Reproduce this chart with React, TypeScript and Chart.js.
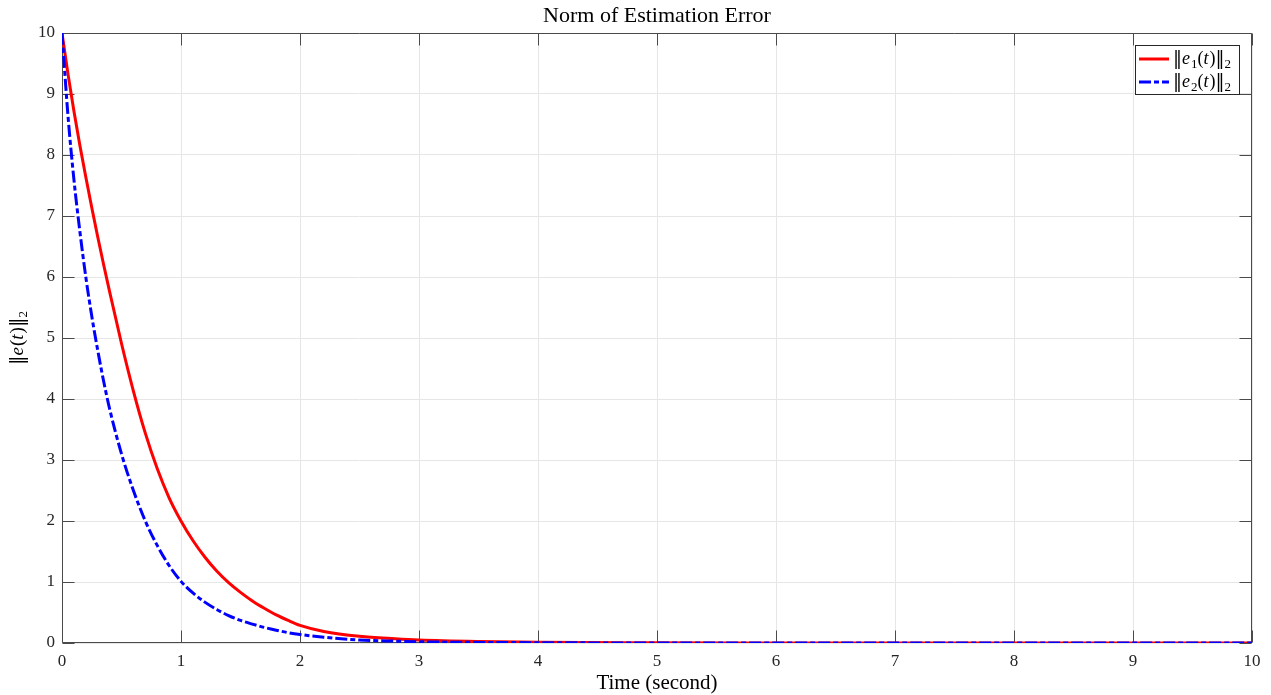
import { useEffect, useRef } from 'react';
import { Chart, registerables } from 'chart.js';

Chart.register(...registerables);

const timeValues = [0, 0.05, 0.1, 0.15, 0.2, 0.25, 0.3, 0.35, 0.4, 0.5, 0.6, 0.7, 0.8, 0.9, 1.0, 1.1, 1.2, 1.3, 1.4, 1.5, 1.6, 1.7, 1.8, 1.9, 2.0, 2.2, 2.5, 2.8, 3.0, 3.5, 4, 5, 6, 7, 8, 9, 10];
const e1Values = [10, 9.33, 8.72, 8.16, 7.64, 7.14, 6.66, 6.2, 5.76, 4.91, 4.13, 3.44, 2.86, 2.38, 2.0, 1.68, 1.41, 1.18, 0.99, 0.83, 0.69, 0.57, 0.46, 0.37, 0.29, 0.19, 0.11, 0.07, 0.05, 0.025, 0.012, 0.004, 0.001, 0, 0, 0, 0];
const e2Values = [10, 8.65, 7.6, 6.75, 6.0, 5.36, 4.8, 4.29, 3.84, 3.1, 2.5, 2.0, 1.6, 1.27, 1.01, 0.82, 0.67, 0.55, 0.45, 0.37, 0.31, 0.255, 0.21, 0.17, 0.14, 0.095, 0.05, 0.03, 0.02, 0.01, 0.005, 0, 0, 0, 0, 0, 0];
const xTickValues = [0, 1, 2, 3, 4, 5, 6, 7, 8, 9, 10];
const yTickValues = [0, 1, 2, 3, 4, 5, 6, 7, 8, 9, 10];

const TITLE = 'Norm of Estimation Error';
const X_LABEL = 'Time (second)';
const SERIF = '"Liberation Serif", "DejaVu Serif", serif';

type Part = [string, 'n' | 'r' | 'i' | 's'];
const yLabelParts: Part[] = [['‖', 'n'], ['e', 'i'], ['(', 'r'], ['t', 'i'], [')', 'r'], ['‖', 'n'], ['2', 's']];
const legendParts1: Part[] = [['‖', 'n'], ['e', 'i'], ['1', 's'], ['(', 'r'], ['t', 'i'], [')', 'r'], ['‖', 'n'], ['2', 's']];
const legendParts2: Part[] = [['‖', 'n'], ['e', 'i'], ['2', 's'], ['(', 'r'], ['t', 'i'], [')', 'r'], ['‖', 'n'], ['2', 's']];

const RED = '#ff0000';
const BLUE = '#0000ff';
const DASH = [12, 3, 5, 3];

function partFont(style: string, size: number) {
  if (style === 'i') return `italic ${size}px ${SERIF}`;
  if (style === 's') return `${Math.round(size * 0.7)}px ${SERIF}`;
  if (style === 'n') return `${size}px "DejaVu Serif", serif`;
  return `${size}px ${SERIF}`;
}

function mathWidth(ctx: CanvasRenderingContext2D, parts: Part[], size: number) {
  let w = 0;
  for (const [t, s] of parts) {
    ctx.font = partFont(s, size);
    w += ctx.measureText(t).width + (s === 'i' ? 1 : 0);
  }
  return w;
}

function drawMath(ctx: CanvasRenderingContext2D, parts: Part[], x: number, y: number, size: number) {
  let cx = x;
  ctx.textAlign = 'left';
  ctx.textBaseline = 'middle';
  for (const [t, s] of parts) {
    ctx.font = partFont(s, size);
    const dy = s === 's' ? size * 0.3 : 0;
    ctx.fillText(t, cx, y + dy);
    cx += ctx.measureText(t).width + (s === 'i' ? 1 : 0);
  }
}

const framePlugin = {
  id: 'matlabFrame',
  beforeDatasetsDraw(chart: any) {
    const { ctx, chartArea } = chart;
    const { left, right, top, bottom } = chartArea;
    const xs = chart.scales.x;
    const ys = chart.scales.y;
    ctx.save();
    ctx.strokeStyle = '#4a4a4a';
    ctx.lineWidth = 1;
    const L = Math.round(left) + 0.5;
    const R = Math.round(right) - 0.5;
    const T = Math.round(top) + 0.5;
    const B = Math.round(bottom) - 0.5;
    ctx.beginPath();
    ctx.rect(L, T, R - L, B - T);
    const tick = 12;
    for (const v of xTickValues) {
      const px = Math.round(xs.getPixelForValue(v)) + 0.5;
      ctx.moveTo(px, B);
      ctx.lineTo(px, B - tick);
      ctx.moveTo(px, T);
      ctx.lineTo(px, T + tick);
    }
    for (const v of yTickValues) {
      const py = Math.round(ys.getPixelForValue(v)) + 0.5;
      ctx.moveTo(L, py);
      ctx.lineTo(L + tick, py);
      ctx.moveTo(R, py);
      ctx.lineTo(R - tick, py);
    }
    ctx.stroke();
    ctx.restore();
  },
  afterDraw(chart: any) {
    const { ctx, chartArea } = chart;
    const { left, right, top, bottom } = chartArea;
    ctx.save();
    ctx.fillStyle = '#000';
    // title
    ctx.font = `22px ${SERIF}`;
    ctx.textAlign = 'center';
    ctx.textBaseline = 'middle';
    ctx.fillText(TITLE, (left + right) / 2, 16);
    // x label
    ctx.font = `21px ${SERIF}`;
    ctx.fillText(X_LABEL, (left + right) / 2, 683);
    // y label
    ctx.save();
    ctx.translate(18, (top + bottom) / 2);
    ctx.rotate(-Math.PI / 2);
    const yw = mathWidth(ctx, yLabelParts, 19);
    ctx.fillStyle = '#000';
    drawMath(ctx, yLabelParts, -yw / 2, 0, 19);
    ctx.restore();
    // legend
    const bx = right - 117;
    const by = top + 12;
    const bw = 104;
    const bh = 49;
    ctx.fillStyle = '#fff';
    ctx.fillRect(bx, by, bw, bh);
    ctx.strokeStyle = '#262626';
    ctx.lineWidth = 1;
    ctx.strokeRect(bx + 0.5, by + 0.5, bw, bh);
    const rows = [
      { color: RED, dash: [] as number[], parts: legendParts1, y: by + 14 },
      { color: BLUE, dash: DASH, parts: legendParts2, y: by + 37 },
    ];
    for (const r of rows) {
      ctx.strokeStyle = r.color;
      ctx.lineWidth = 3;
      ctx.setLineDash(r.dash);
      ctx.beginPath();
      ctx.moveTo(bx + 4, r.y);
      ctx.lineTo(bx + 34, r.y);
      ctx.stroke();
      ctx.setLineDash([]);
      ctx.fillStyle = '#000';
      drawMath(ctx, r.parts, bx + 38, r.y, 18);
    }
    ctx.restore();
  },
};

export default function App() {
  const canvasRef = useRef<HTMLCanvasElement | null>(null);

  useEffect(() => {
    if (!canvasRef.current) return;
    const chart = new Chart(canvasRef.current, {
      type: 'line',
      data: {
        datasets: [
          {
            label: '‖e1(t)‖2',
            data: timeValues.map((t, i) => ({ x: t, y: e1Values[i] })),
            borderColor: RED,
            backgroundColor: RED,
            borderWidth: 3,
            pointRadius: 0,
            cubicInterpolationMode: 'monotone',
            order: 2,
          },
          {
            label: '‖e2(t)‖2',
            data: timeValues.map((t, i) => ({ x: t, y: e2Values[i] })),
            borderColor: BLUE,
            backgroundColor: BLUE,
            borderWidth: 3,
            borderDash: DASH,
            pointRadius: 0,
            cubicInterpolationMode: 'monotone',
            order: 1,
          },
        ],
      },
      options: {
        animation: false,
        responsive: false,
        maintainAspectRatio: false,
        layout: { padding: { top: 33, right: 19, left: 0, bottom: 0 } },
        plugins: {
          legend: { display: false },
          title: { display: false },
          tooltip: { enabled: false },
        },
        scales: {
          x: {
            type: 'linear',
            min: 0,
            max: 10,
            afterFit: (s: any) => { s.height = 52; },
            afterBuildTicks: (s: any) => { s.ticks = xTickValues.map((v) => ({ value: v })); },
            ticks: {
              color: '#262626',
              font: { family: SERIF, size: 17 },
              padding: 8,
              maxRotation: 0,
            },
            grid: { color: '#e6e6e6', drawTicks: false, lineWidth: 1 },
            border: { display: false },
          },
          y: {
            type: 'linear',
            min: 0,
            max: 10,
            afterFit: (s: any) => { s.width = 62; },
            afterBuildTicks: (s: any) => { s.ticks = yTickValues.map((v) => ({ value: v })); },
            ticks: {
              color: '#262626',
              font: { family: SERIF, size: 17 },
              padding: 7,
            },
            grid: { color: '#e6e6e6', drawTicks: false, lineWidth: 1 },
            border: { display: false },
          },
        },
      },
      plugins: [framePlugin],
    } as any);
    return () => chart.destroy();
  }, []);

  return (
    <div style={{ position: 'fixed', left: 0, top: 0, width: 1271, height: 695, background: '#fff' }}>
      <canvas ref={canvasRef} width={1271} height={695} />
    </div>
  );
}
